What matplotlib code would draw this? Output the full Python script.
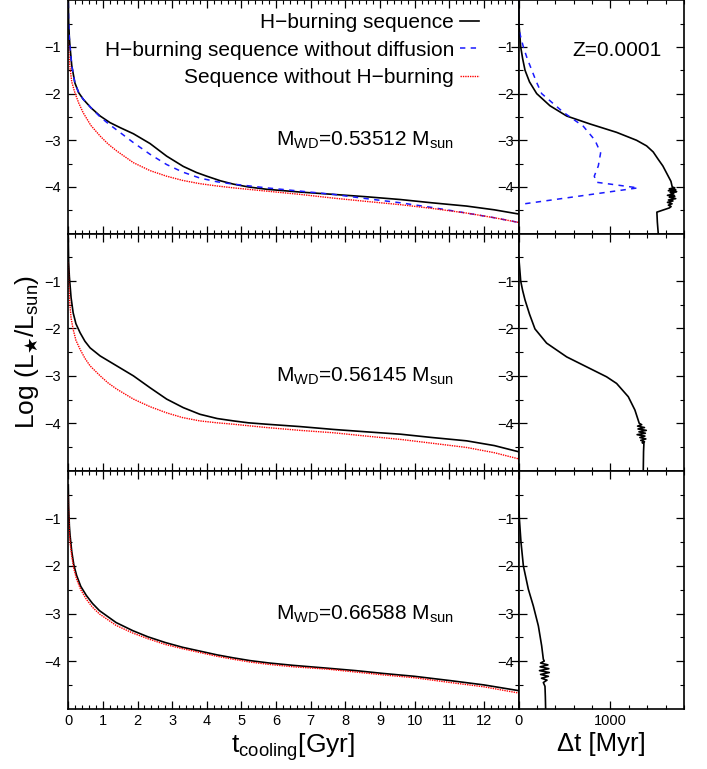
import matplotlib
matplotlib.use("Agg")
import matplotlib.pyplot as plt
from matplotlib.ticker import MultipleLocator, FixedLocator, NullFormatter

plt.rcParams['font.family'] = ['Liberation Sans', 'DejaVu Sans']
plt.rcParams['mathtext.fontset'] = 'custom'
plt.rcParams['mathtext.rm'] = 'Liberation Sans'
plt.rcParams['mathtext.sf'] = 'DejaVu Sans'
plt.rcParams['mathtext.default'] = 'regular'

# ---- cooling curves, t [Gyr] vs log L ----
# M = 0.53512
t_h1 = [0, 0.01, 0.03, 0.05, 0.1, 0.19, 0.3, 0.43, 0.65, 0.92, 1.2, 1.5, 1.88, 2.36, 2.84, 3.32, 3.7, 4.0, 4.4, 4.77, 5.2, 5.73, 6.7, 7.66, 8.6, 9.59, 10.5, 11.5, 12.3, 13.0]
l_h1 = [0.0, -0.45, -0.8, -1.0, -1.4, -1.77, -1.98, -2.12, -2.3, -2.48, -2.62, -2.73, -2.86, -3.07, -3.34, -3.56, -3.69, -3.77, -3.87, -3.94, -4.0, -4.05, -4.11, -4.16, -4.21, -4.27, -4.34, -4.41, -4.49, -4.58]
t_nd1 = [0, 0.01, 0.03, 0.05, 0.1, 0.19, 0.3, 0.43, 0.65, 0.92, 1.15, 1.4, 1.88, 2.36, 2.84, 3.3, 3.8, 4.3, 4.77, 5.73, 6.7, 7.66, 8.6, 9.59, 10.5, 11.5, 12.3, 13.0]
l_nd1 = [-0.05, -0.45, -0.8, -1.0, -1.4, -1.77, -1.98, -2.12, -2.3, -2.5, -2.64, -2.78, -3.05, -3.3, -3.52, -3.68, -3.81, -3.89, -3.94, -4.02, -4.09, -4.16, -4.25, -4.34, -4.44, -4.56, -4.66, -4.76]
t_nh1 = [0, 0.01, 0.03, 0.05, 0.1, 0.19, 0.3, 0.43, 0.65, 0.92, 1.15, 1.4, 1.88, 2.36, 2.84, 3.3, 3.8, 4.3, 4.77, 5.73, 6.7, 7.66, 8.6, 9.59, 10.5, 11.5, 12.3, 13.0]
l_nh1 = [-0.85, -1.05, -1.28, -1.45, -1.75, -1.98, -2.2, -2.41, -2.68, -2.91, -3.08, -3.23, -3.48, -3.65, -3.77, -3.86, -3.93, -3.98, -4.02, -4.09, -4.16, -4.24, -4.31, -4.38, -4.46, -4.56, -4.66, -4.76]

# M = 0.56145
t_h2 = [0, 0.01, 0.03, 0.05, 0.08, 0.14, 0.22, 0.34, 0.48, 0.63, 0.92, 1.4, 1.88, 2.36, 2.84, 3.32, 3.8, 4.3, 4.77, 5.2, 5.73, 6.7, 7.66, 8.6, 9.59, 10.5, 11.5, 12.3, 13.0]
l_h2 = [-0.1, -0.6, -0.9, -1.08, -1.35, -1.67, -1.9, -2.09, -2.27, -2.41, -2.58, -2.79, -3.0, -3.25, -3.49, -3.67, -3.81, -3.9, -3.95, -3.99, -4.02, -4.07, -4.13, -4.18, -4.23, -4.3, -4.37, -4.47, -4.6]
t_nh2 = [0, 0.01, 0.03, 0.05, 0.08, 0.14, 0.22, 0.34, 0.48, 0.63, 0.92, 1.15, 1.4, 1.88, 2.36, 2.84, 3.3, 3.8, 4.3, 4.77, 5.73, 6.7, 7.66, 8.6, 9.59, 10.5, 11.5, 12.3, 13.0]
l_nh2 = [-0.6, -1.0, -1.3, -1.53, -1.78, -2.02, -2.25, -2.44, -2.63, -2.79, -3.0, -3.15, -3.28, -3.49, -3.65, -3.78, -3.88, -3.95, -3.99, -4.02, -4.09, -4.15, -4.2, -4.27, -4.34, -4.42, -4.51, -4.62, -4.75]

# M = 0.66588
t_h3 = [0, 0.01, 0.03, 0.05, 0.1, 0.16, 0.24, 0.36, 0.52, 0.7, 0.9, 1.38, 1.86, 2.3, 2.8, 3.3, 3.8, 4.3, 4.75, 5.25, 5.8, 6.5, 7.5, 8.3, 9.1, 10.0, 11.03, 12.0, 13.0]
l_h3 = [-0.3, -0.75, -1.15, -1.35, -1.7, -1.98, -2.2, -2.43, -2.62, -2.79, -2.94, -3.19, -3.36, -3.49, -3.61, -3.71, -3.79, -3.87, -3.93, -3.99, -4.04, -4.09, -4.15, -4.2, -4.26, -4.32, -4.41, -4.5, -4.62]
l_nh3 = [-0.5, -0.95, -1.3, -1.5, -1.8, -2.06, -2.28, -2.5, -2.7, -2.87, -3.01, -3.25, -3.41, -3.53, -3.65, -3.74, -3.82, -3.9, -3.96, -4.02, -4.07, -4.12, -4.17, -4.23, -4.29, -4.35, -4.45, -4.54, -4.67]

# ---- time differences, dt [Myr] vs log L ----
dt1 = [0, 5, 24, 45, 71, 120, 198, 342, 524, 777, 1067, 1284, 1393, 1465, 1520, 1570, 1610, 1658, 1672,
       1700, 1640, 1710, 1630, 1720, 1650, 1690, 1620, 1700, 1640, 1710, 1630, 1680, 1620, 1670, 1630, 1660, 1640,
       1505, 1510, 1520]
ld1 = [0.0, -0.5, -1.0, -1.25, -1.5, -1.75, -2.0, -2.26, -2.48, -2.65, -2.83, -3.0, -3.12, -3.25, -3.41, -3.55, -3.7, -3.88, -4.0,
       -4.02, -4.04, -4.06, -4.08, -4.1, -4.12, -4.15, -4.18, -4.2, -4.22, -4.25, -4.28, -4.3, -4.33, -4.36, -4.39, -4.42, -4.45,
       -4.54, -4.75, -5.0]
dt_nd = [0, 0, 53, 95, 145, 195, 252, 488, 705, 832, 893, 868, 824, 850, 1300, 70]
ld_nd = [0.0, -0.6, -1.0, -1.25, -1.5, -1.75, -2.0, -2.4, -2.7, -3.0, -3.27, -3.55, -3.77, -3.9, -4.02, -4.36]

dt2 = [0, 0, 24, 45, 71, 120, 179, 306, 524, 741, 958, 1067, 1194, 1266, 1313,
       1340, 1295, 1370, 1300, 1390, 1310, 1380, 1290, 1375, 1320, 1385, 1330, 1370, 1345, 1364,
       1360, 1357]
ld2 = [0.0, -0.42, -1.0, -1.2, -1.4, -1.7, -2.01, -2.31, -2.6, -2.81, -3.02, -3.16, -3.44, -3.72, -4.0,
       -4.03, -4.06, -4.09, -4.12, -4.15, -4.18, -4.21, -4.24, -4.27, -4.3, -4.33, -4.36, -4.39, -4.41, -4.42,
       -4.6, -5.0]

dt3 = [0, 0, 9, 27, 53, 107, 161, 216, 252, 270,
       280, 240, 320, 235, 330, 228, 335, 240, 325, 250, 310, 270, 288,
       292, 295]
ld3 = [0.0, -0.45, -1.0, -1.5, -2.0, -2.49, -2.84, -3.26, -3.68, -3.96,
       -4.0, -4.04, -4.08, -4.12, -4.16, -4.2, -4.24, -4.28, -4.32, -4.36, -4.4, -4.45, -4.53,
       -4.75, -5.0]

masses = ["0.53512", "0.56145", "0.66588"]

fig = plt.figure(figsize=(7.07, 7.69), dpi=100)

W, H = 707.0, 769.0
rows = [(0.3, 233.6), (233.6, 470.7), (470.7, 708.7)]
lx0, lx1, rx1 = 68.3, 518.5, 684.0

axL = []
axR = []
for (y0, y1) in rows:
    a = fig.add_axes([lx0 / W, 1 - y1 / H, (lx1 - lx0) / W, (y1 - y0) / H])
    b = fig.add_axes([lx1 / W, 1 - y1 / H, (rx1 - lx1) / W, (y1 - y0) / H])
    axL.append(a)
    axR.append(b)

blk = dict(color='black', lw=1.2)
blu = dict(color='#1a1aff', lw=1.1, ls=(0, (3.5, 3.5)))
red = dict(color='red', lw=1.0, ls=(0, (1, 0.7)))

axL[0].plot(t_h1, l_h1, label='H\u2212burning sequence', **blk)
axL[0].plot(t_nd1, l_nd1, label='H\u2212burning sequence without diffusion', **blu)
axL[0].plot(t_nh1, l_nh1, label='Sequence without H\u2212burning', **red)
axL[1].plot(t_h2, l_h2, **blk)
axL[1].plot(t_nh2, l_nh2, **red)
axL[2].plot(t_h3, l_h3, **blk)
axL[2].plot(t_h3, l_nh3, **red)

axR[0].plot(dt1, ld1, **blk)
axR[0].plot(dt_nd, ld_nd, **blu)
axR[1].plot(dt2, ld2, **blk)
axR[2].plot(dt3, ld3, **blk)

for i, a in enumerate(axL):
    a.set_xlim(0, 13)
    a.set_ylim(-5, 0)
    a.xaxis.set_major_locator(FixedLocator(list(range(0, 13))))
    a.xaxis.set_minor_locator(MultipleLocator(0.2))
    a.yaxis.set_major_locator(FixedLocator([-4, -3, -2, -1]))
    a.yaxis.set_minor_locator(FixedLocator([-4.5, -3.5, -2.5, -1.5, -0.5]))
    a.tick_params(which='both', direction='in', top=True, right=True, labelsize=10.5)
    a.tick_params(axis='y', pad=5)
    a.tick_params(which='major', length=6, width=0.9)
    a.tick_params(which='minor', length=3, width=0.8)
    if i < 2:
        a.xaxis.set_major_formatter(NullFormatter())
    a.text(6.0, -3.12, 'M$_{WD}$=' + masses[i] + ' M$_{sun}$', fontsize=15, ha='left', va='baseline')
    for s in a.spines.values():
        s.set_linewidth(1.2)

for i, b in enumerate(axR):
    b.set_xlim(0, 1800)
    b.set_ylim(-5, 0)
    b.xaxis.set_major_locator(FixedLocator([0, 1000]))
    b.xaxis.set_minor_locator(MultipleLocator(200))
    b.yaxis.set_major_locator(FixedLocator([-4, -3, -2, -1]))
    b.yaxis.set_minor_locator(FixedLocator([-4.5, -3.5, -2.5, -1.5, -0.5]))
    b.tick_params(which='both', direction='in', top=True, right=True, labelsize=10.5)
    b.tick_params(axis='y', pad=3)
    b.tick_params(which='major', length=6, width=0.9)
    b.tick_params(which='minor', length=3, width=0.8)
    if i < 2:
        b.xaxis.set_major_formatter(NullFormatter())
    for s in b.spines.values():
        s.set_linewidth(1.2)

axR[0].text(590, -1.2, 'Z=0.0001', fontsize=15, ha='left', va='baseline')

axL[0].legend(loc='upper right', frameon=False, markerfirst=False, fontsize=15,
              handlelength=0.9, handletextpad=0.3, labelspacing=0.42,
              borderaxespad=0.2, bbox_to_anchor=(0.94, 1.0))

axL[1].set_ylabel(r'Log (L$_{\mathsf{\bigstar}}$/L$_{sun}$)', fontsize=19, labelpad=3)
axL[2].set_xlabel('t$_{cooling}$[Gyr]', fontsize=19, labelpad=3)
axR[2].set_xlabel('\u0394t [Myr]', fontsize=18.5, labelpad=3)

fig.savefig('out.png', dpi=100)
